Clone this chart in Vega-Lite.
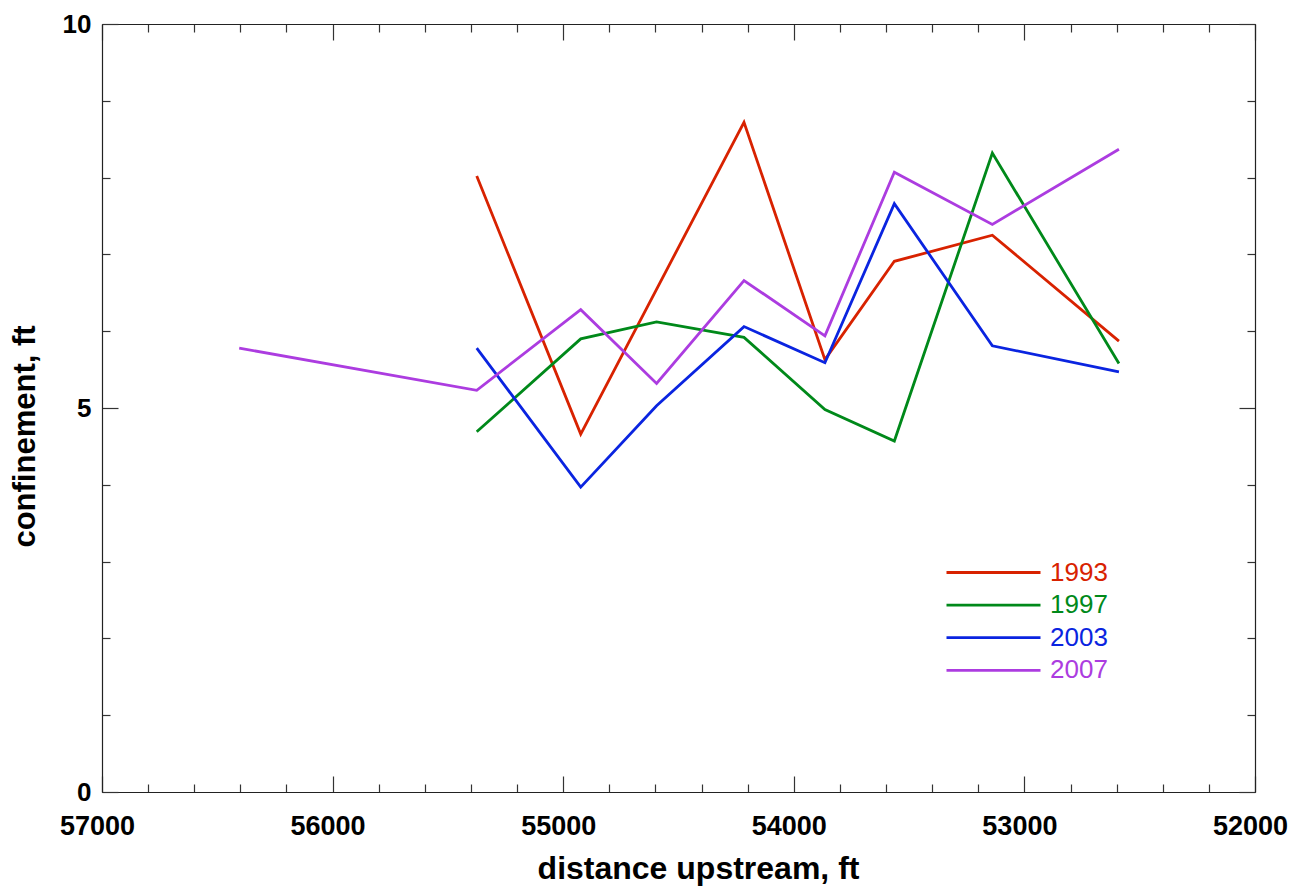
{
  "$schema": "https://vega.github.io/schema/vega-lite/v6.json",
  "width": 1153,
  "height": 768,
  "autosize": {"type": "none"},
  "padding": {"left": 102, "top": 24, "right": 35, "bottom": 96},
  "background": "white",
  "config": {
    "view": {"stroke": null},
    "font": "Liberation Sans",
    "axis": {"grid": false, "domainColor": "#222", "domainWidth": 1.2, "tickColor": "#333", "tickWidth": 1.2, "labelFont": "Liberation Sans", "titleFont": "Liberation Sans", "labelColor": "black", "titleColor": "black"}
  },
  "data": {
    "values": [
      {"year": "1993", "dist": 55375, "conf": 8.02},
      {"year": "1993", "dist": 54924, "conf": 4.66},
      {"year": "1993", "dist": 54216, "conf": 8.72},
      {"year": "1993", "dist": 53865, "conf": 5.63},
      {"year": "1993", "dist": 53564, "conf": 6.91},
      {"year": "1993", "dist": 53139, "conf": 7.25},
      {"year": "1993", "dist": 52590, "conf": 5.87},
      {"year": "1997", "dist": 55375, "conf": 4.69},
      {"year": "1997", "dist": 54924, "conf": 5.9},
      {"year": "1997", "dist": 54595, "conf": 6.12},
      {"year": "1997", "dist": 54216, "conf": 5.92},
      {"year": "1997", "dist": 53865, "conf": 4.98},
      {"year": "1997", "dist": 53564, "conf": 4.57},
      {"year": "1997", "dist": 53139, "conf": 8.32},
      {"year": "1997", "dist": 52590, "conf": 5.58},
      {"year": "2003", "dist": 55375, "conf": 5.78},
      {"year": "2003", "dist": 54924, "conf": 3.97},
      {"year": "2003", "dist": 54595, "conf": 5.03},
      {"year": "2003", "dist": 54216, "conf": 6.06},
      {"year": "2003", "dist": 53865, "conf": 5.59},
      {"year": "2003", "dist": 53564, "conf": 7.66},
      {"year": "2003", "dist": 53139, "conf": 5.81},
      {"year": "2003", "dist": 52590, "conf": 5.47},
      {"year": "2007", "dist": 56405, "conf": 5.78},
      {"year": "2007", "dist": 55375, "conf": 5.23},
      {"year": "2007", "dist": 54924, "conf": 6.28},
      {"year": "2007", "dist": 54595, "conf": 5.32},
      {"year": "2007", "dist": 54216, "conf": 6.66},
      {"year": "2007", "dist": 53865, "conf": 5.94},
      {"year": "2007", "dist": 53564, "conf": 8.07},
      {"year": "2007", "dist": 53139, "conf": 7.39},
      {"year": "2007", "dist": 52590, "conf": 8.37}
    ]
  },
  "layer": [
    {
      "mark": {"type": "line", "strokeWidth": 2.8},
      "encoding": {
        "x": {
          "field": "dist", "type": "quantitative",
          "scale": {"domain": [52000, 57000], "reverse": true, "nice": false, "zero": false},
          "axis": {
            "orient": "bottom",
            "values": [57000, 56800, 56600, 56400, 56200, 56000, 55800, 55600, 55400, 55200, 55000, 54800, 54600, 54400, 54200, 54000, 53800, 53600, 53400, 53200, 53000, 52800, 52600, 52400, 52200, 52000],
            "format": "d",
            "labelExpr": "datum.value % 1000 === 0 ? datum.label : ''",
            "tickSize": {"condition": {"test": "datum.value % 1000 === 0", "value": -16}, "value": -8},
            "labelPadding": 37,
            "labelFontSize": 27,
            "labelFontWeight": "bold",
            "labelOffset": -5,
            "labelFlush": false,
            "labelOverlap": false,
            "labelBound": false,
            "title": "distance upstream, ft",
            "titleFontSize": 32,
            "titleFontWeight": "bold",
            "titleX": 596,
            "titleY": 86,
            "titleBaseline": "alphabetic",
            "titleAlign": "center"
          }
        },
        "y": {
          "field": "conf", "type": "quantitative",
          "scale": {"domain": [0, 10], "nice": false},
          "axis": {
            "orient": "left",
            "values": [0, 1, 2, 3, 4, 5, 6, 7, 8, 9, 10],
            "labelExpr": "datum.value % 5 === 0 ? datum.label : ''",
            "tickSize": {"condition": {"test": "datum.value % 5 === 0", "value": -16}, "value": -8},
            "labelPadding": 27,
            "labelFontSize": 26,
            "labelFontWeight": "bold",
            "labelFlush": false,
            "labelOverlap": false,
            "labelBound": false,
            "title": "confinement, ft",
            "titleFontSize": 31,
            "titleFontWeight": "bold",
            "titleAngle": 270,
            "titleX": -68,
            "titleY": 412,
            "titleBaseline": "alphabetic",
            "titleAlign": "center"
          }
        },
        "color": {
          "field": "year", "type": "nominal",
          "scale": {"domain": ["1993", "1997", "2003", "2007"], "range": ["#d82200", "#00891a", "#0a24e0", "#ac3ce0"]},
          "legend": {
            "orient": "none",
            "legendX": 843,
            "legendY": 536,
            "title": null,
            "padding": 0,
            "symbolType": "stroke",
            "symbolSize": 8836,
            "symbolStrokeWidth": 2.8,
            "clipHeight": 25,
            "rowPadding": 5.6,
            "labelFontSize": 26,
            "labelFont": "Liberation Sans",
            "labelOffset": 8,
            "encode": {"labels": {"update": {"fill": {"scale": "color", "field": "value"}}}}
          }
        }
      }
    },
    {
      "mark": {"type": "line", "strokeOpacity": 0},
      "encoding": {
        "x": {
          "field": "dist", "type": "quantitative",
          "scale": {"domain": [52000, 57000], "reverse": true, "nice": false, "zero": false},
          "axis": {
            "orient": "top",
            "values": [57000, 56800, 56600, 56400, 56200, 56000, 55800, 55600, 55400, 55200, 55000, 54800, 54600, 54400, 54200, 54000, 53800, 53600, 53400, 53200, 53000, 52800, 52600, 52400, 52200, 52000],
            "labels": false,
            "title": null,
            "tickSize": {"condition": {"test": "datum.value % 1000 === 0", "value": -16}, "value": -8}
          }
        },
        "y": {
          "field": "conf", "type": "quantitative",
          "scale": {"domain": [0, 10], "nice": false},
          "axis": {
            "orient": "right",
            "values": [0, 1, 2, 3, 4, 5, 6, 7, 8, 9, 10],
            "labels": false,
            "title": null,
            "tickSize": {"condition": {"test": "datum.value % 5 === 0", "value": -16}, "value": -8}
          }
        }
      }
    }
  ],
  "resolve": {"axis": {"x": "independent", "y": "independent"}}
}
